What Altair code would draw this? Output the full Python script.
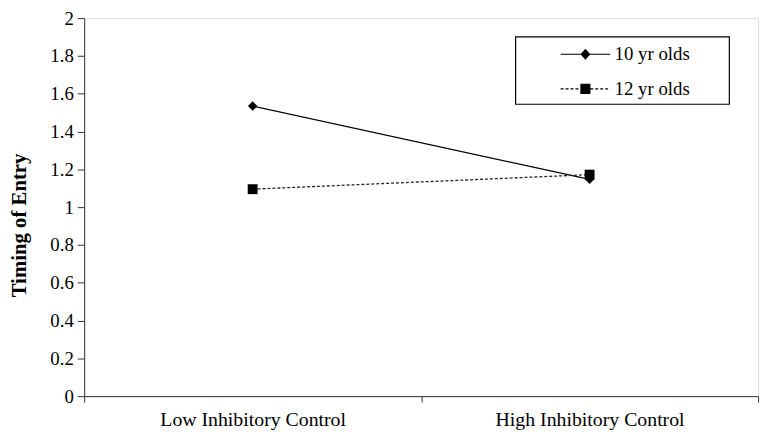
import altair as alt
import pandas as pd

categories = ["Low Inhibitory Control", "High Inhibitory Control"]
series = ["10 yr olds", "12 yr olds"]
values_10 = [1.535, 1.147]
values_12 = [1.095, 1.172]
y_ticks = [0, 0.2, 0.4, 0.6, 0.8, 1, 1.2, 1.4, 1.6, 1.8, 2]

rows = []
for s, vals in zip(series, [values_10, values_12]):
    for c, v in zip(categories, vals):
        rows.append({"category": c, "series": s, "value": v})
df = pd.DataFrame(rows)

FONT = "Liberation Serif"
W, H = 681, 382


# legend symbols: line + marker drawn with strokes (unit = 5px at symbolSize 100)
def fmt(v):
    return f"{v:.2f}"


def diamond_symbol():
    parts = ["M-5,0L5,0"]
    hw, hh = 0.85, 0.95
    y = -hh
    while y <= hh + 1e-9:
        w = hw * (1 - abs(y) / hh)
        parts.append(f"M{fmt(-w)},{fmt(y)}L{fmt(w)},{fmt(y)}")
        y += 0.2
    parts.append(f"M0,{fmt(-hh)}L{fmt(hw)},0L0,{fmt(hh)}L{fmt(-hw)},0Z")
    return "".join(parts)


def square_dashed_symbol():
    parts = []
    h = 0.9
    x = -5.0
    while x < 5 - 1e-9:
        x2 = min(x + 0.6, 5.0)
        if x2 <= -h or x >= h:
            parts.append(f"M{fmt(x)},0L{fmt(x2)},0")
        x += 1.0
    y = -h
    while y <= h + 1e-9:
        parts.append(f"M{fmt(-h)},{fmt(y)}L{fmt(h)},{fmt(y)}")
        y += 0.2
    parts.append(f"M{fmt(-h)},{fmt(-h)}L{fmt(h)},{fmt(-h)}L{fmt(h)},{fmt(h)}L{fmt(-h)},{fmt(h)}Z")
    return "".join(parts)


path10 = diamond_symbol()
path12 = square_dashed_symbol()

x_enc = alt.X(
    "category:N",
    sort=categories,
    scale=alt.Scale(type="band", paddingInner=0, paddingOuter=0),
    bandPosition=0.5,
    axis=alt.Axis(
        title=None, tickBand="extent", tickSize=6, labelPadding=8,
        labelFont=FONT, labelFontSize=20, labelColor="black", labelLimit=500,
        domainColor="#333", tickColor="#333", labelAngle=0,
    ),
)
y_enc = alt.Y(
    "value:Q",
    scale=alt.Scale(domain=[0, 2], nice=False),
    axis=alt.Axis(
        title="Timing of Entry", values=y_ticks, format="~g",
        grid=False, tickSize=7, labelPadding=4, labelOverlap=False,
        labelFont=FONT, labelFontSize=19, labelColor="black",
        domainColor="#333", tickColor="#333",
        titleFont=FONT, titleFontSize=21, titleFontWeight="bold", titleColor="black",
        titleX=-65, titleY=209, titleBaseline="middle", titleAngle=-90,
    ),
)

d10 = alt.Chart(df).transform_filter(alt.datum.series == series[0])
d12 = alt.Chart(df).transform_filter(alt.datum.series == series[1])

line10 = d10.mark_line(color="black", strokeWidth=1.3).encode(x=x_enc, y=y_enc)
line12 = d12.mark_line(color="#222", strokeWidth=1.3, strokeDash=[3, 2]).encode(x=x_enc, y=y_enc)

pts10 = d10.mark_point(
    filled=True, color="black", opacity=1, size=90, shape="diamond"
).encode(x=x_enc, y=y_enc)

pts12 = d12.mark_point(
    filled=True, color="black", opacity=1, size=100, shape="square"
).encode(x=x_enc, y=y_enc)

legend_box = alt.Chart(pd.DataFrame({"a": [0]})).mark_rect(
    fill="white", stroke="black", strokeWidth=1.2
).encode(
    x=alt.value(436), x2=alt.value(652), y=alt.value(19), y2=alt.value(87)
)

legend_driver = alt.Chart(df).transform_filter("false").mark_point(
    filled=False, stroke="black", strokeWidth=1.2, opacity=1
).encode(
    x=x_enc,
    y=y_enc,
    shape=alt.Shape(
        "series:N",
        scale=alt.Scale(domain=series, range=[path10, path12]),
        legend=alt.Legend(
            title=None, orient="none", legendX=497, legendY=27,
            labelFont=FONT, labelFontSize=19, labelColor="black",
            labelOffset=20, rowPadding=15, symbolSize=100,
            symbolStrokeWidth=1.2, symbolStrokeColor="black",
            symbolOpacity=1,
        ),
    ),
)

chart = alt.layer(line10, line12, pts10, pts12, legend_box, legend_driver).properties(
    width=W, height=H,
    autosize=alt.AutoSizeParams(type="none"),
    padding={"left": 77, "top": 8, "right": 5, "bottom": 35},
).configure_view(stroke="#aaa", strokeWidth=1).configure(background="white")

chart.save("out.html", embed_options={"renderer": "svg", "actions": False})
